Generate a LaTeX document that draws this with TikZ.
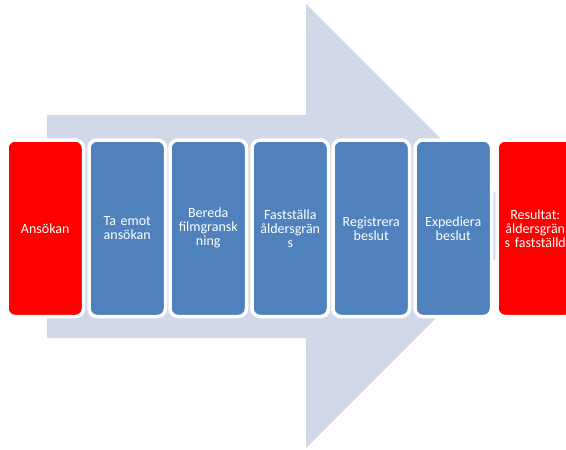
\documentclass[tikz,border=0pt]{standalone}
\usepackage{fontspec}
\setmainfont{Carlito}
\definecolor{arrowbg}{HTML}{D1D8E8}
\definecolor{stepblue}{HTML}{4F81BD}
\definecolor{stepred}{HTML}{FF0000}
\tikzset{
  box/.style={draw=white, line width=3.5pt, rounded corners=8pt, minimum width=76.5pt, minimum height=176.5pt,
    inner sep=0pt, text=white, align=center, text width=76pt, font=\fontsize{14}{14}\selectfont, anchor=north west},
  bluebox/.style={box, fill=stepblue},
  redbox/.style={box, fill=stepred}
}
\begin{document}
\begin{tikzpicture}[x=1pt, y=-1pt]
\useasboundingbox (0,0) rectangle (566,450);
\clip (0,0) rectangle (566,450);
\fill[arrowbg] (47,115) -- (306,115) -- (306,4) -- (528,226) -- (306,448) -- (306,338) -- (47,338) -- cycle;
\node[redbox] (a) at (5.25,138.25) {Ansökan};
\node[bluebox] (b) at (87.25,138.25) {Ta emot\\ansökan};
\node[bluebox] (c) at (168.25,138.25) {Bereda\\filmgransk\\ning};
\node[bluebox] (d) at (250.25,138.25) {Fastställa\\åldersgrän\\s};
\node[bluebox] (e) at (331.25,138.25) {Registrera\\beslut};
\node[bluebox] (f) at (413.25,138.25) {Expediera\\beslut};
\node[redbox] (g) at (495.25,138.25) {Resultat:\\åldersgrän\\s fastställd};
\end{tikzpicture}
\end{document}
